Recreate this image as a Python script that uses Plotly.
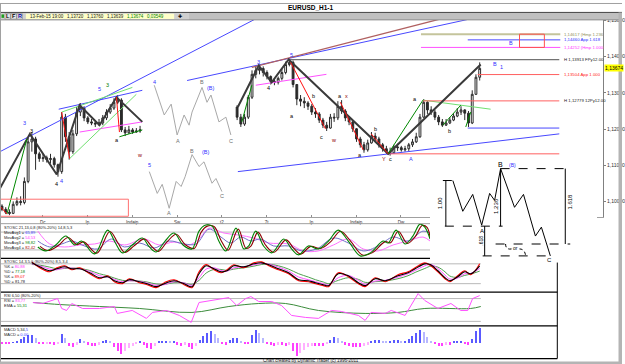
import plotly.graph_objects as go

W, H = 625, 364
FONT = "Liberation Sans"

# ---------------- price data (2-hour candles) ----------------
seg1_first = 0
seg1_open0 = 1.0988
seg1_close = [1.0979,1.0971,1.0968,1.0993,1.1001,1.0998,1.1056,1.1165,1.1173,1.1132,
              1.1119,1.1121,1.1116,1.1119,1.1102,1.1083,1.1233,1.1179,1.1138,1.1187,
              1.1247,1.1258,1.1231,1.1220,1.1217,1.1214,1.1217,1.1231,1.1247,1.1258,
              1.1274,1.1280,1.1198,1.1190,1.1198,1.1192,1.1195,1.1198]
seg1_high = [1.0993,1.0985,1.0979,1.1001,1.1012,1.1015,1.1067,1.1176,1.1192,1.1179,
             1.1138,1.1132,1.1127,1.1132,1.1124,1.1105,1.1247,1.1242,1.1192,1.1198,
             1.1261,1.1272,1.1263,1.1236,1.1228,1.1225,1.1228,1.1239,1.1255,1.1269,
             1.1285,1.1294,1.1285,1.1206,1.1209,1.1203,1.1203,1.1209]
seg1_low = [1.0974,1.0966,1.0963,1.0966,1.0988,1.0990,1.0993,1.1051,1.1138,1.1088,
            1.1110,1.1110,1.1108,1.1105,1.1094,1.1069,1.1077,1.1165,1.1116,1.1132,
            1.1181,1.1236,1.1222,1.1214,1.1211,1.1206,1.1209,1.1211,1.1225,1.1242,
            1.1253,1.1269,1.1192,1.1181,1.1187,1.1187,1.1190,1.1190]

seg2_first = 63
seg2_open0 = 1.1261
seg2_close = [1.1233,1.1214,1.1233,1.1288,1.1351,1.1362,1.1367,1.1356,1.1345,1.1332,
              1.1329,1.1340,1.1356,1.1378,1.1384,1.1323,1.1283,1.1277,1.1272,1.1263,
              1.1247,1.1242,1.1225,1.1211,1.1203,1.1233,1.1231,1.1263,1.1250,1.1231,
              1.1220,1.1201,1.1173,1.1157,1.1143,1.1162,1.1181,1.1173,1.1157,1.1146,
              1.1138,1.1135,1.1151,1.1149,1.1143,1.1146,1.1157,1.1165,1.1179,1.1233,
              1.1274,1.1253,1.1247,1.1233,1.1220,1.1211,1.1217,1.1225,1.1236,1.1247,
              1.1253,1.1244,1.1217,1.1296,1.1343,1.13674]
seg2_high = [1.1266,1.1242,1.1242,1.1294,1.1362,1.1373,1.1378,1.1373,1.1362,1.1348,
             1.1340,1.1345,1.1367,1.1386,1.1395,1.1389,1.1323,1.1294,1.1288,1.1277,
             1.1269,1.1258,1.1247,1.1231,1.1220,1.1242,1.1244,1.1277,1.1280,1.1255,
             1.1236,1.1225,1.1203,1.1179,1.1165,1.1171,1.1192,1.1190,1.1179,1.1162,
             1.1154,1.1149,1.1157,1.1160,1.1154,1.1154,1.1162,1.1173,1.1190,1.1242,
             1.1283,1.1277,1.1263,1.1253,1.1239,1.1228,1.1228,1.1233,1.1244,1.1258,
             1.1263,1.1255,1.1250,1.1307,1.1351,1.1384]
seg2_low = [1.1225,1.1206,1.1209,1.1228,1.1283,1.1340,1.1351,1.1345,1.1337,1.1323,
            1.1321,1.1323,1.1334,1.1351,1.1373,1.1315,1.1266,1.1263,1.1258,1.1253,
            1.1239,1.1231,1.1217,1.1203,1.1195,1.1201,1.1220,1.1225,1.1242,1.1222,
            1.1211,1.1192,1.1165,1.1149,1.1135,1.1138,1.1160,1.1165,1.1149,1.1138,
            1.1132,1.1127,1.1132,1.1140,1.1138,1.1138,1.1140,1.1151,1.1162,1.1176,
            1.1231,1.1242,1.1239,1.1225,1.1211,1.1206,1.1209,1.1214,1.1222,1.1233,
            1.1239,1.1225,1.1206,1.1214,1.1294,1.1334]

day_ticks = [10.9, 22.9, 34.9, 46.9, 58.9, 70.9, 82.9, 94.9, 106.9]
day_labels = ["Dc", "Ip", "Indaip", "Sw", "t2", "7t", "Ip", "Indaip", "Dw"]
price_ticks = [1.10, 1.11, 1.12, 1.13, 1.14, 1.15]
price_labels = ["1,10000", "1,11000", "1,12000", "1,13000", "1,14000", "1,15000"]
last_price = 1.13674

# ---------------- indicator data ----------------
stosc_green_x = [9.6,11.7,14.4,17.1,19.5,21.3,24.8,28.3,30.4,32.3,34.9,37.6,39.5,41.3,43.7,
                 46.1,48.5,50.9,52.8,54.4,56.3,58.1,60.0,62.7,64.8,66.1,68.0,70.1,72.3,75.5,
                 77.6,79.5,82.1,84.8,87.5,90.1,92.8,96.0,98.7,102.1,103.5,105.6,108.0,110.1,112.0,113.3,114.7]
stosc_green = [30,16.7,36.7,66.7,36.7,50,6.7,86.7,43.3,10,36.7,60,30,13.3,50,
               76.7,36.7,23.3,83.3,103.3,100,50,16.7,93.3,23.3,33.3,83.3,33.3,10,56.7,
               23.3,3.3,33.3,23.3,50,86.7,50,0,10,50,43.3,86.7,40,66.7,106.7,96.7,56.7]
stosc_red_x = [10.2,12.3,15,17.7,20.1,21.9,25.4,28.9,31,32.9,35.5,38.2,40.1,41.9,44.3,
               46.7,49.1,51.5,53.4,55,56.9,58.7,60.6,63.3,65.4,66.7,68.6,70.7,72.9,76.1,
               78.2,80.1,82.7,85.4,88.1,90.7,93.4,96.6,99.3,102.7,104.1,106.2,108.6,110.7,112.6,113.9,114.7]
stosc_red = [32,18,34,62,38,47,9,82,45,12,35,57,32,15,48,
             73,38,25,80,100,98,52,19,90,25,33,80,35,12,54,
             25,6,32,25,48,83,50,3,11,48,44,83,42,64,102,96,62]
stosc_blue_x = [9.6,12.8,16,18.7,22.1,25.6,29.3,32.8,36.8,40.8,44.8,48.8,52,55.5,58.7,61.3,
                64,66.7,69.3,72.8,76.8,80.3,84.3,88.8,92.8,96.8,100.8,104.8,108.8,112.8,114.7]
stosc_blue = [50,30,40,50,33.3,23.3,56.7,30,43.3,26.7,50,40,40,90,63.3,43.3,
              63.3,50,56.7,33.3,33.3,16.7,23.3,60,43.3,16.7,33.3,63.3,50,83.3,76.7]
stosc_mag_x = [9.6,12.8,16.8,20.8,24.8,28.8,32.8,38.1,42.1,46.1,50.1,52.8,55.5,59.5,
               63.5,67.5,71.5,76.8,80.8,84.8,88.8,92.8,96.8,100.8,104.8,108.8,112.8,114.7]
stosc_mag = [83.3,40,30,36.7,40,50,36.7,56.7,36.7,46.7,36.7,56.7,93.3,76.7,
             70,60,43.3,40,16.7,16.7,36.7,56.7,23.3,16.7,36.7,50,63.3,50]

stoch_x = [8,10.1,12.8,14.7,16.8,18.7,20.8,23.5,26.1,28.3,30.1,32.3,34.1,36.8,38.9,
           41.3,43.5,46.1,48.8,50.9,52.8,54.7,56.8,58.7,60.3,62.1,64.8,67.5,69.6,71.5,
           74.1,76.8,79.5,82.1,84,86.1,87.5,90.1,92.8,95.5,97.3,100,102.7,106.1,108.8,
           110.7,113.3,114.9,116.8,118.7,120,122.1,124,125.6,128]
stoch_black = [83,71,59,65,71,65,65,53,38,41,29,23,32,26,20,11,20,29,20,11,50,74,65,56,59,
               74,71,80,83,77,65,53,32,29,23,17,14,50,44,23,14,35,29,44,53,65,80,77,59,38,
               29,41,56,50,74]
stoch_red = [86,68,56,68,74,62,68,50,35,44,26,20,35,23,17,8,23,32,17,8,56,78,62,53,62,
             77,68,83,86,74,62,50,29,26,20,14,11,53,41,20,11,38,26,47,56,68,83,74,56,35,
             26,44,59,47,80]
stoch_mag = [80,74,64,62,68,67,65,57,44,40,33,26,29,27,22,15,17,26,22,15,38,64,68,60,58,
             68,71,77,81,79,70,58,40,32,26,20,16,38,45,30,18,28,30,40,50,60,74,78,66,46,
             34,37,50,51,66]
stoch_green = [78,76,70,65,66,67,66,60,50,44,37,30,29,28,25,19,18,23,22,18,30,52,63,63,60,
               64,68,73,78,79,74,64,50,40,32,25,20,30,38,33,24,26,28,35,44,54,66,73,70,56,
               43,39,45,49,58]

rsi_x = [8.3,10.9,14.9,16,17.3,18.7,21.6,26.1,30.1,30.9,34.9,38.7,40.3,44,47.5,50.7,52.8,
         56.3,60.8,62.9,65.3,66.7,68.8,72.3,74.9,77.6,81.3,84.8,88.3,90.9,95.5,97.3,98.9,
         102.7,104.3,108,111.5,113.3,116.8,120.3,122.9,124.8,126.1,128]
rsi = [69.6,67,80,53.9,48.7,67,53.9,53.9,59.1,40.9,48.7,27.8,43.5,48.7,35.6,17.4,69.6,
       74.8,82.6,61.7,80,85.2,72.2,72.2,61.7,35.6,30.4,27.8,48.7,46.1,35.6,22.6,43.5,
       40.9,48.7,35.6,93,74.8,53.9,67,48.7,48.7,80,87.8]
ema_x = [8.3,15.5,26.1,36.8,50.9,60.8,68.8,76,84.8,97.3,106.1,113.3,125.6,128.3]
ema = [69.6,64.3,59.1,53.9,43.5,59.1,67,67,48.7,40.9,43.5,53.9,53.9,59.1]

macd_hist = [-1,-1,-1,0.5,2,4,6,8,8,5,
             -1,-1.5,-1,-1,-2,-1,9,5,-3,-4,
             -2,4,1,-2,-3,-3,-2,2,3,1,
             -4,-8,-11,-8,-5,-3,-1,2,-2,-5,
             -6,-3,1,2,2,1,1,-2,-3,-2,
             -4,-6,-3,3,7,10,12,9,5,-1,
             -2,3,5,5,2,-1,-1,8,13,10,
             5,-1,-2,-3,-2,-2,-3,-2,-8,-13,
             -10,-7,-4,-3,-3,-3,-3,-1,3,6,
             5,2,-2,-3,-4,-4,-4,-3,-2,2,
             3,3,2,1,2,3,3,2,2,4,
             7,10,13,11,6,2,-1,-3,-3,-2,
             -2,1,2,2,-1,-2,4,12,15]

# ---------------- drawings (bar index, price) ----------------
swing1_x = [-0.53, 7.47, 14.67, 20.8, 26.13, 30.67, 37.6]
swing1_y = [1.1037, 1.1187, 1.1075, 1.1266, 1.1211, 1.1288, 1.1220]
swing2_x = [63.2, 68.8, 72.27, 76.8, 103.47, 128.27]
swing2_y = [1.1261, 1.1375, 1.1329, 1.1392, 1.1132, 1.1378]

blue_segs = [(-0.53, 1.1138, 68.0, 1.1504), (15.2, 1.1255, 37.6, 1.1307),
             (63.2, 1.1083, 149.33, 1.1187), (49.6, 1.1334, 125.6, 1.1504),
             (124.8, 1.1203, 149.33, 1.1203), (124.8, 1.14460, 149.6, 1.14460)]
lgreen_segs = [(16, 1.1247, 34.93, 1.1315), (18.13, 1.1119, 36, 1.1296), (112.8, 1.1280, 130.93, 1.1255)]
dgreen_segs = [(31.47, 1.1179, 37.6, 1.1198), (1.33, 1.0966, 6.67, 1.1173), (103.47, 1.1132, 112.8, 1.1280),
               (118.13, 1.1211, 122.93, 1.1266), (124.27, 1.1206, 125.6, 1.1247), (64.27, 1.1220, 66.93, 1.1321)]
red_segs = [(16, 1.1247, 18.13, 1.1119), (30.67, 1.1288, 31.47, 1.1192), (-0.53, 1.0988, 1.33, 1.0966),
            (77.33, 1.1384, 86.67, 1.1201), (90.67, 1.1274, 96.8, 1.1143), (98.93, 1.1187, 103.47, 1.1132)]
lred_segs = [(127.47, 1.13504, 149.33, 1.13504), (112.8, 1.12779, 149.33, 1.12779), (103.47, 1.1132, 149.33, 1.1132)]
gray_segs = [(76.8, 1.13913, 149.33, 1.13913)]
brown_segs = [(66.93, 1.1370, 117.6, 1.1504)]
mag_segs = [(20.8, 1.1192, 37.6, 1.1220), (68, 1.1321, 86.93, 1.1351), (112.27, 1.14252, 149.6, 1.14252)]
olive_segs = [(112.27, 1.14617, 149.6, 1.14617)]

illus1_x = [40.8, 43.47, 45.33, 46.93, 48.8, 50.13, 50.93, 53.6, 54.93, 56, 58.13, 60, 61.33]
illus1_y = [1.1321, 1.1239, 1.1269, 1.1184, 1.1239, 1.1211, 1.1247, 1.1315, 1.1274, 1.1294, 1.1220, 1.1233, 1.1184]
illus2_x = [39.47, 41.6, 42.93, 44.8, 46.67, 48, 49.07, 50.93, 52.8, 54.13, 56.27, 57.33, 58.93]
illus2_y = [1.1083, 1.1023, 1.1048, 1.0982, 1.1056, 1.1042, 1.1069, 1.1130, 1.1097, 1.1110, 1.1051, 1.1064, 1.1028]

wave_labels = [
    ("3", 6.13, 1.1217, "#3030ff"), ("3", 7.9, 1.1196, "#000000"),
    ("4", 14.67, 1.1048, "#000000"), ("4", 16.0, 1.1056, "#3030ff"),
    ("5", 26.13, 1.1310, "#3030ff"), ("3", 28.27, 1.1321, "#008000"),
    ("a", 30.93, 1.1171, "#000000"), ("w", 36.8, 1.1130, "#900000"),
    ("4", 40.8, 1.1330, "#3030ff"), ("A", 47.2, 1.1168, "#707070"), ("B", 53.6, 1.1330, "#707070"),
    ("(B)", 56.0, 1.1312, "#3030ff"), ("C", 61.33, 1.1168, "#707070"),
    ("5", 39.47, 1.1100, "#3030ff"), ("A", 44.8, 1.0968, "#707070"), ("B", 50.93, 1.1141, "#707070"),
    ("(B)", 54.6, 1.1137, "#3030ff"), ("C", 58.93, 1.1017, "#707070"),
    ("3", 68.8, 1.1386, "#3030ff"), ("5", 77.6, 1.1405, "#3030ff"), ("4", 71.47, 1.1313, "#000000"),
    ("a", 77.6, 1.1236, "#000000"), ("b", 83.47, 1.1291, "#000000"), ("c", 85.6, 1.1179, "#000000"),
    ("w", 88.8, 1.1171, "#900000"), ("a", 90.67, 1.1290, "#000000"), ("x", 92.27, 1.1290, "#900000"),
    ("b", 100, 1.1201, "#000000"), ("a", 96, 1.1130, "#000000"), ("Y", 102.4, 1.1119, "#900000"),
    ("c", 104, 1.1117, "#000000"), ("A", 109.6, 1.1117, "#3030ff"), ("a", 110.67, 1.1282, "#000000"),
    ("b", 120, 1.1195, "#000000"), ("B", 132, 1.1380, "#3030ff"), ("1", 133.8, 1.1370, "#3030ff"),
]
level_labels = [
    ("1,14617 (Hmp 1.236", 1.14617, "#909060"), ("1,14460 App 1.618", 1.14460, "#3030ff"),
    ("1,14252 (Hmp 1.000", 1.14252, "#ff30ff"), ("H 1,13913 FPy12.00", 1.13913, "#202020"),
    ("1,13504 App 1.000", 1.13504, "#ff2020"), ("H 1,12779 12Py12.00", 1.12779, "#202020"),
]

# inset (local units: u to the right, v upward)
inset_zz_u = [23, 33, 43, 52, 60, 65, 71, 85, 94, 106, 112, 121]
inset_zz_v = [83, 52, 69, 38, 70, 63, 95, 56, 69, 27, 36, 7]

# ---------------- build ----------------
def px(x): return x / W
def py(y): return 1 - y / H

seg1_open = [seg1_open0] + seg1_close[:-1]
seg2_open = [seg2_open0] + seg2_close[:-1]
idx = list(range(seg1_first, seg1_first + len(seg1_close))) + list(range(seg2_first, seg2_first + len(seg2_close)))

fig = go.Figure()
fig.add_trace(go.Candlestick(
    x=idx, open=seg1_open + seg2_open, high=seg1_high + seg2_high,
    low=seg1_low + seg2_low, close=seg1_close + seg2_close,
    increasing=dict(line=dict(color="#2a2a2a", width=1), fillcolor="#ffffff"),
    decreasing=dict(line=dict(color="#2a2a2a", width=1), fillcolor="#2a2a2a"),
    whiskerwidth=0, showlegend=False, hoverinfo="skip", xaxis="x", yaxis="y"))

def seg_trace(segs, color, width=1, xa="x", ya="y"):
    xs, ys = [], []
    for (x0, y0, x1, y1) in segs:
        xs += [x0, x1, None]
        ys += [y0, y1, None]
    return go.Scatter(x=xs, y=ys, mode="lines", line=dict(color=color, width=width),
                      xaxis=xa, yaxis=ya, hoverinfo="skip", showlegend=False)

def line_trace(x, y, color, width=1, xa="x", ya="y", shape="linear"):
    return go.Scatter(x=x, y=y, mode="lines", line=dict(color=color, width=width, shape=shape),
                      xaxis=xa, yaxis=ya, hoverinfo="skip", showlegend=False)

fig.add_trace(line_trace(illus1_x, illus1_y, "#a8a8a8", 1))
fig.add_trace(line_trace(illus2_x, illus2_y, "#a8a8a8", 1))
fig.add_trace(seg_trace(olive_segs, "#c4c49c", 2))
fig.add_trace(seg_trace(blue_segs, "#4848ff", 1))
fig.add_trace(seg_trace(brown_segs, "#b06060", 1.2))
fig.add_trace(seg_trace(mag_segs, "#ff50ff", 1))
fig.add_trace(seg_trace(lgreen_segs, "#70e070", 1))
fig.add_trace(seg_trace(gray_segs, "#505050", 1))
fig.add_trace(seg_trace(lred_segs, "#ff6060", 1))
fig.add_trace(line_trace(swing1_x, swing1_y, "#3a3a3a", 2))
fig.add_trace(line_trace(swing2_x, swing2_y, "#3a3a3a", 2))
fig.add_trace(seg_trace(dgreen_segs, "#008800", 1))
fig.add_trace(seg_trace(red_segs, "#ff1010", 1))

# STOSC
fig.add_trace(line_trace(stosc_mag_x, stosc_mag, "#ff70ff", 1, "x2", "y2", "spline"))
fig.add_trace(line_trace(stosc_blue_x, stosc_blue, "#7070c8", 1, "x2", "y2", "spline"))
fig.add_trace(line_trace(stosc_red_x, stosc_red, "#8b0000", 1.1, "x2", "y2", "spline"))
fig.add_trace(line_trace(stosc_green_x, stosc_green, "#008000", 1.1, "x2", "y2", "spline"))
# Stochastic
fig.add_trace(line_trace(stoch_x, stoch_green, "#50a050", 1, "x3", "y3", "spline"))
fig.add_trace(line_trace(stoch_x, stoch_mag, "#ff50ff", 1, "x3", "y3", "spline"))
fig.add_trace(line_trace(stoch_x, stoch_red, "#ff0000", 1.1, "x3", "y3", "spline"))
fig.add_trace(line_trace(stoch_x, stoch_black, "#000000", 1.1, "x3", "y3", "spline"))
# RSI
fig.add_trace(line_trace(ema_x, ema, "#3c8c3c", 1, "x4", "y4", "spline"))
fig.add_trace(line_trace(rsi_x, rsi, "#ff50ff", 1, "x4", "y4"))
# MACD
cols = []
for i, v in enumerate(macd_hist):
    prev = macd_hist[i - 1] if i > 0 else 0
    fading = abs(v) < abs(prev) and (v * prev > 0)
    if v >= 0:
        cols.append("#b8b8ff" if fading else "#5a5aff")
    else:
        cols.append("#ffb0ff" if fading else "#ff40ff")
fig.add_trace(go.Bar(x=list(range(len(macd_hist))), y=macd_hist, marker=dict(color=cols, line=dict(width=0)),
                     width=0.3, xaxis="x5", yaxis="y5", hoverinfo="skip", showlegend=False))
# inset dummy
fig.add_trace(go.Scatter(x=[0], y=[0], mode="markers", marker=dict(opacity=0), xaxis="x6", yaxis="y6",
                         hoverinfo="skip", showlegend=False))

# ---------------- axes ----------------
x_lo = -0.5333
hid = dict(visible=False, fixedrange=True, showgrid=False, zeroline=False)
fig.update_layout(
    width=W, height=H, margin=dict(l=0, r=0, t=0, b=0),
    paper_bgcolor="white", plot_bgcolor="rgba(0,0,0,0)", showlegend=False,
    font=dict(family=FONT, size=5, color="#202020"),
    xaxis=dict(domain=[0, px(606)], range=[x_lo, x_lo + 606 / 3.75], anchor="y",
               showline=True, linecolor="#a0a0a0", linewidth=1, ticks="inside", ticklen=2,
               tickcolor="#909090", tickvals=day_ticks, ticktext=day_labels,
               tickfont=dict(size=4.5, family=FONT, color="#303030"),
               showgrid=False, zeroline=False, rangeslider=dict(visible=False), fixedrange=True),
    yaxis=dict(domain=[py(216), py(17)], range=[1.14 - (216 - 54) / 3660, 1.14 - (17 - 54) / 3660],
               anchor="x", side="right", showline=True, linecolor="#808080", linewidth=1,
               ticks="outside", ticklen=2, tickcolor="#808080", tickvals=price_ticks,
               ticktext=price_labels, tickfont=dict(size=5, family=FONT, color="#303030"),
               showgrid=False, zeroline=False, fixedrange=True),
    xaxis2=dict(domain=[0, px(560)], range=[x_lo, x_lo + 560 / 3.75], anchor="y2", **hid),
    yaxis2=dict(domain=[py(257), py(222)], range=[-6.7, 110], anchor="x2", **hid),
    xaxis3=dict(domain=[0, px(560)], range=[x_lo, x_lo + 560 / 3.75], anchor="y3", **hid),
    yaxis3=dict(domain=[py(291), py(258)], range=[-4, 95], anchor="x3", **hid),
    xaxis4=dict(domain=[0, px(560)], range=[x_lo, x_lo + 560 / 3.75], anchor="y4", **hid),
    yaxis4=dict(domain=[py(325), py(292)], range=[9.6, 95.7], anchor="x4", **hid),
    xaxis5=dict(domain=[0, px(560)], range=[x_lo, x_lo + 560 / 3.75], anchor="y5", **hid),
    yaxis5=dict(domain=[py(358), py(326)], range=[-15, 17], anchor="x5", **hid),
    xaxis6=dict(domain=[px(432), px(600)], range=[0, 168], anchor="y6", **hid),
    yaxis6=dict(domain=[py(262), py(160)], range=[0, 102], anchor="x6", **hid),
    bargap=0,
)

shapes = []
ann = []

def pline(x0, y0, x1, y1, color, width=1, dash="solid", layer="above"):
    shapes.append(dict(type="line", xref="paper", yref="paper", x0=px(x0), y0=py(y0), x1=px(x1), y1=py(y1),
                       line=dict(color=color, width=width, dash=dash), layer=layer))

def prect(x0, y0, x1, y1, fill, line_color=None, width=0, layer="above"):
    shapes.append(dict(type="rect", xref="paper", yref="paper", x0=px(x0), y0=py(y0), x1=px(x1), y1=py(y1),
                       fillcolor=fill, line=dict(color=line_color or fill, width=width), layer=layer))

def ptext(x, y, text, size=5, color="#202020", xanchor="left", bold=False):
    t = f"<b>{text}</b>" if bold else text
    ann.append(dict(xref="paper", yref="paper", x=px(x), y=py(y), text=t, showarrow=False,
                    xanchor=xanchor, yanchor="middle", font=dict(size=size, color=color, family=FONT)))

# indicator reference lines
for (xa, ya, lv) in [("x2", "y2", [80, 20]), ("x3", "y3", [80, 20]), ("x4", "y4", [80, 20])]:
    for v in lv:
        shapes.append(dict(type="line", xref=xa, yref=ya, x0=x_lo, x1=128.3, y0=v, y1=v,
                           line=dict(color="#b8b8b8", width=1), layer="below"))

# red rectangles in price chart
shapes.append(dict(type="rect", xref="x", yref="y", x0=-0.53, x1=33.87, y0=1.0960, y1=1.1007,
                   line=dict(color="#ff7070", width=1), fillcolor="rgba(0,0,0,0)", layer="above"))
shapes.append(dict(type="rect", xref="x", yref="y", x0=138.67, x1=145.33, y0=1.14252, y1=1.14617,
                   line=dict(color="#ff5050", width=1), fillcolor="rgba(0,0,0,0)", layer="above"))

# panel separators
pline(0, 222.5, 560, 222.5, "#a0a0a0")
for yy in [257.5, 291.5, 325.5, 358.5]:
    pline(0, yy, 560, yy, "#000000", 1.2)
pline(560, 222, 560, 358.5, "#000000", 1)

# ---------------- inset (Elliott flat diagram) ----------------
def iline(u0, v0, u1, v1, dash="solid"):
    shapes.append(dict(type="line", xref="x6", yref="y6", x0=u0, y0=v0, x1=u1, y1=v1,
                       line=dict(color="#000000", width=1, dash=dash), layer="above"))
shapes.append(dict(type="rect", xref="x6", yref="y6", x0=0, x1=168, y0=0, y1=102,
                   fillcolor="white", line=dict(width=0), layer="above"))
iline(16, 37, 16, 83); iline(13, 83, 22, 83)
iline(15, 37, 73, 37, "dash")
path = "M " + " L ".join(f"{u},{v}" for u, v in zip(inset_zz_u, inset_zz_v))
shapes.append(dict(type="path", xref="x6", yref="y6", path=path, line=dict(color="#000000", width=1), layer="above"))
iline(71, 37, 71, 95)
iline(71, 95, 140, 95, "dash")
iline(136, 19, 136, 95)
iline(66, 19, 141, 19, "dash")
iline(55, 7, 55, 37)
iline(53, 7, 118, 7, "dash")
shapes.append(dict(type="path", xref="x6", yref="y6", path="M 76,19 Q 76,13 82,14",
                   line=dict(color="#000000", width=1, dash="dot"), layer="above"))
shapes.append(dict(type="path", xref="x6", yref="y6", path="M 90,14 Q 95,14 96,8",
                   line=dict(color="#000000", width=1, dash="dot"), layer="above"))

def itext(u, v, text, size=6, color="#000000", angle=0):
    ann.append(dict(xref="x6", yref="y6", x=u, y=v, text=text, showarrow=False, textangle=angle,
                    font=dict(size=size, color=color, family=FONT)))
itext(10, 60, "1.00", 6, angle=-90)
itext(67, 57, "1.236", 6, angle=-90)
itext(141, 62, "1.618", 6, angle=-90)
itext(51, 22, ".618", 5, angle=-90)
itext(52, 32, "A", 6); itext(71, 99, "B", 7); itext(83, 99, "(B)", 5, "#3030ff"); itext(120, 3, "C", 6)
itext(86, 15, "or", 5)

# ---------------- window chrome ----------------
prect(0, 0, 625, 9.5, "white")
pline(0, 0.5, 625, 0.5, "#a0a0a0", 1)
pline(0, 9.5, 625, 9.5, "#404040", 1)
prect(0, 10, 625, 17, "#cfcfcf")
prect(190, 10, 625, 17, "#c0c0c0")
pline(0, 17, 625, 17, "#8a8a8a", 1)
prect(1.5, 11.5, 4, 15, "#20a020")
for bx, letter, col in [(5, "L", "#000000"), (11, "F", "#000000"), (17, "R", "#0000a0")]:
    prect(bx, 10.8, bx + 5.5, 16.2, "#e8e8e8", "#707070", 0.5)
    ptext(bx + 2.75, 13.5, letter, 5.5, col, "center", True)
prect(26, 10.8, 175, 16.2, "#ffffc8")
ptext(28, 13.5, "13-Feb-15 19:00&nbsp;&nbsp;&nbsp;1,13720&nbsp;&nbsp;&nbsp;1,13760&nbsp;&nbsp;&nbsp;1,13639&nbsp;&nbsp;&nbsp;"
      "<span style='color:#008000'>1,13674&nbsp;&nbsp;&nbsp;0,03549</span>", 4.5)
ptext(181, 13.5, "✚", 5, "#000000", "center")
ptext(313, 5, "EURUSD_H1-1", 6.5, "#000000", "center", True)
prect(621.5, 9.5, 625, 364, "#b4b4b4")
pline(0.5, 0, 0.5, 364, "#a0a0a0", 1)
prect(0, 361.5, 625, 364, "#b4b4b4")
ptext(312, 360.5, "Chart created by Dynamic Trader (c) 1996-2011", 4.5, "#202020", "center")

# indicator labels
B, M, G, R = "#3c3cff", "#ff30ff", "#008000", "#b00000"
def sp(c, t): return f"<span style='color:{c}'>{t}</span>"
stosc_lines = ["STOSC 21,13,0,8 (80%-20%) 14,8,5,3", "MovAvg1 = " + sp(B, "65,89"),
               "MovAvg2 = " + sp(M, "54,53"), "MovAvg3 = " + sp(G, "98,82"), "MovAvg4 = " + sp(R, "82,42")]
for k, t in enumerate(stosc_lines):
    ptext(2, 226.8 + 5.0 * k, t, 4.0)
stoch_lines = ["STOSC 14,3,5,0 (80%-20%) 8,5,3,4", "%K = " + sp(M, "80,88"), "%D = " + sp(G, "77,18"),
               "%K = " + sp("#ff0000", "89,07"), "%D = 81,78"]
for k, t in enumerate(stoch_lines):
    ptext(2, 261 + 5.0 * k, t, 4.0)
for k, t in enumerate(["RSI 6,50 (80%-20%)", "RSI = " + sp(M, "83,77"), "EMA = " + sp(G, "55,31")]):
    ptext(2, 295 + 5.0 * k, t, 4.0)
for k, t in enumerate(["MACD 5,34," + sp(B, "5"), "MACD = " + sp(B, "0,00")]):
    ptext(2, 329 + 5.0 * k, t, 4.0)

# price chart text
for (t, x, y, c) in wave_labels:
    ann.append(dict(xref="x", yref="y", x=x, y=y, text=t, showarrow=False,
                    font=dict(size=5.5, color=c, family=FONT)))
for (t, y, c) in level_labels:
    ann.append(dict(xref="x", yref="y", x=150.0, y=y, text=t, showarrow=False, xanchor="left",
                    font=dict(size=4.3, color=c, family=FONT)))
ann.append(dict(xref="x", yref="y", x=136.3, y=1.1436, text="B", showarrow=False,
                font=dict(size=5.5, color="#3030ff", family=FONT)))
ann.append(dict(xref="paper", yref="y", x=px(607), y=last_price, text="1,13674", showarrow=False,
                xanchor="left", bgcolor="#ffff00", borderpad=0,
                font=dict(size=5, color="#000000", family=FONT)))

fig.update_layout(shapes=shapes, annotations=ann)
fig.write_html("out.html")
